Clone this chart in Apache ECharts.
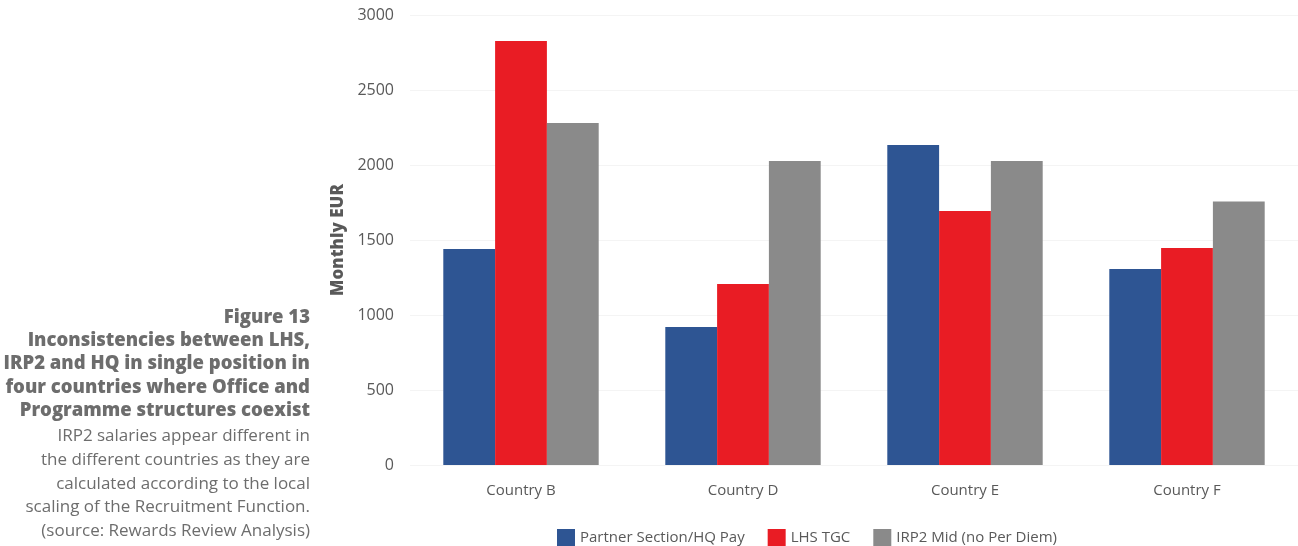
<!DOCTYPE html>
<html><head><meta charset="utf-8">
<script src="https://cdn.jsdelivr.net/npm/echarts@6/dist/echarts.min.js"></script>
<style>html,body{margin:0;padding:0;background:#fff}#c{width:1298px;height:546px}</style>
</head><body><div id="c"></div>
<script>
const categories = ['Country B', 'Country D', 'Country E', 'Country F'];
const partnerHQ = [1440, 920, 2133, 1307];
const lhsTGC = [2827, 1207, 1693, 1447];
const irp2Mid = [2280, 2027, 2027, 1756];
const yTicks = [0, 500, 1000, 1500, 2000, 2500, 3000];
const titleLines = ['Figure 13', 'Inconsistencies between LHS,', 'IRP2 and HQ in single position in', 'four countries where Office and', 'Programme structures coexist'];
const noteLines = ['IRP2 salaries appear different in', 'the different countries as they are', 'calculated according to the local', 'scaling of the Recruitment Function.', '(source: Rewards Review Analysis)'];

const chart = echarts.init(document.getElementById('c'));
const FF = '"Open Sans", "Noto Sans", sans-serif';
const graphics = [];
titleLines.forEach((t, i) => graphics.push({type:'text', right: 988, top: 308 + i*23.3,
  style:{text:t, font:'800 18.5px ' + FF, fill:'#6d6d6d', textAlign:'right'}}));
noteLines.forEach((t, i) => graphics.push({type:'text', right: 988, top: 428 + i*23.7,
  style:{text:t, font:'17px ' + FF, fill:'#6d6d6d', textAlign:'right'}}));

chart.setOption({
  animation:false,
  grid:{left:410, right:0, top:15, bottom:81},
  legend:{top:524, left:552, itemWidth:18, itemHeight:18, itemGap:23, icon:'rect',
    textStyle:{fontFamily:FF, fontSize:15, color:'#595959'},
    data:['Partner Section/HQ Pay','LHS TGC','IRP2 Mid (no Per Diem)']},
  xAxis:{type:'category', data:categories, axisLine:{show:false}, axisTick:{show:false},
    axisLabel:{fontFamily:FF, fontSize:15, color:'#595959', margin:18}},
  yAxis:{type:'value', min:yTicks[0], max:yTicks[yTicks.length-1], interval:500,
    name:'Monthly EUR', nameLocation:'middle', nameGap:62, nameRotate:90,
    nameTextStyle:{fontFamily:FF, fontSize:17, fontWeight:800, color:'#595959'},
    axisLabel:{fontFamily:FF, fontSize:16, color:'#595959', margin:16, formatter:v => String(v)},
    splitLine:{lineStyle:{color:'#f4f4f4'}}},
  series:[
    {name:'Partner Section/HQ Pay', type:'bar', data:partnerHQ, itemStyle:{color:'#2E5593'}, barGap:'0%', barCategoryGap:'30%'},
    {name:'LHS TGC', type:'bar', data:lhsTGC, itemStyle:{color:'#E91C24'}},
    {name:'IRP2 Mid (no Per Diem)', type:'bar', data:irp2Mid, itemStyle:{color:'#8A8A8A'}}
  ],
  graphic:graphics
});
</script></body></html>
